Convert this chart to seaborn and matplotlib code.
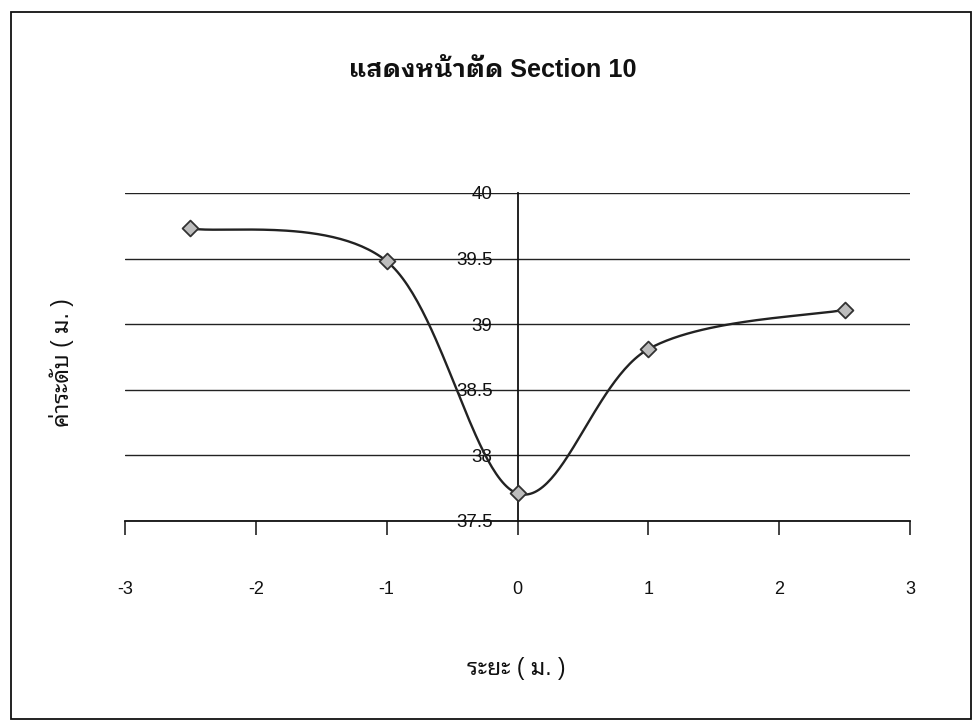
import numpy as np
import pandas as pd
import matplotlib
matplotlib.use("Agg")
import matplotlib.pyplot as plt
import seaborn as sns
from matplotlib.patches import Rectangle

# Cross-section survey: offset from centre line (m) and ground level (m)
distance = [-2.5, -1.0, 0.0, 1.0, 2.5]
elevation = [39.73, 39.48, 37.71, 38.81, 39.11]

x_ticks = [-3, -2, -1, 0, 1, 2, 3]
y_ticks = [37.5, 38, 38.5, 39, 39.5, 40]

title_text = "แสดงหน้าตัด Section 10"
x_label = "ระยะ ( ม. )"
y_label = "ค่าระดับ ( ม. )"


def smooth_curve(xs, ys, steps=60):
    """Cardinal (Catmull-Rom style) Bezier through the points, like a smoothed scatter line."""
    pts = np.column_stack([xs, ys]).astype(float)
    padded = np.vstack([pts[0], pts, pts[-1]])
    t = np.linspace(0, 1, steps)[:, None]
    pieces = []
    for i in range(1, len(padded) - 2):
        p0, p1, p2, p3 = padded[i - 1:i + 3]
        c1 = p1 + (p2 - p0) / 6.0
        c2 = p2 - (p3 - p1) / 6.0
        seg = ((1 - t) ** 3) * p1 + 3 * ((1 - t) ** 2) * t * c1 + 3 * (1 - t) * t ** 2 * c2 + t ** 3 * p2
        pieces.append(seg if i == 1 else seg[1:])
    return np.vstack(pieces)


sns.set_style("white")
plt.rcParams["font.family"] = ["Liberation Sans", "Noto Sans Thai Looped", "DejaVu Sans"]
title_family = ["Liberation Sans", "IBM Plex Sans Thai Looped", "DejaVu Sans"]

W, H = 980, 723
fig = plt.figure(figsize=(W / 100, H / 100), dpi=100)

# chart-area border
fig.patches.append(Rectangle((11 / W, 1 - 719 / H), 960 / W, 707 / H,
                             transform=fig.transFigure, fill=False,
                             edgecolor="#111111", linewidth=1.3))

left, right, top, bottom = 125, 910, 193, 521
ax = fig.add_axes([left / W, 1 - bottom / H, (right - left) / W, (bottom - top) / H])

points = pd.DataFrame({"distance": distance, "elevation": elevation})
curve = smooth_curve(points["distance"], points["elevation"])
line_df = pd.DataFrame({"distance": curve[:, 0], "elevation": curve[:, 1]})

sns.lineplot(data=line_df, x="distance", y="elevation", sort=False, estimator=None,
             color="#222222", linewidth=1.7, ax=ax, zorder=3)
sns.scatterplot(data=points, x="distance", y="elevation", marker="D", s=65,
                color="#bdbdbd", edgecolor="#333333", linewidth=1.3, ax=ax, zorder=4)

ax.set_xlim(x_ticks[0], x_ticks[-1])
ax.set_ylim(y_ticks[0], y_ticks[-1])
ax.set_xticks(x_ticks)
ax.set_yticks(y_ticks)
ax.set_xticklabels([f"{v:g}" for v in x_ticks])
ax.set_yticklabels([f"{v:g}" for v in y_ticks])

# horizontal gridlines only
ax.grid(False)
ax.yaxis.grid(True, color="#222222", linewidth=1.0)
ax.set_axisbelow(True)

# value axis crosses the category axis at x = 0
for side in ["top", "right"]:
    ax.spines[side].set_visible(False)
ax.spines["left"].set_position(("data", 0))
ax.spines["left"].set_color("#111111")
ax.spines["left"].set_linewidth(1.3)
ax.spines["bottom"].set_color("#111111")
ax.spines["bottom"].set_linewidth(1.3)

ax.tick_params(axis="x", bottom=True, direction="out", length=10, width=1.1,
               color="#111111", pad=33, labelsize=13, labelcolor="#111111")
ax.tick_params(axis="y", left=False, length=0, pad=18, labelsize=13.5,
               labelcolor="#111111")

ax.set_xlabel(x_label, fontsize=16.5, color="#111111", va="center")
ax.set_ylabel(y_label, fontsize=16.5, color="#111111", va="center")
ax.xaxis.set_label_coords(516 / W, 1 - 668 / H, transform=fig.transFigure)
ax.yaxis.set_label_coords(61 / W, 1 - 363 / H, transform=fig.transFigure)

fig.text(493 / W, 1 - 70 / H, title_text, ha="center", va="center",
         fontsize=18.2, fontweight="bold", color="#111111", family=title_family)

fig.savefig("out.png", dpi=100, facecolor="white")
